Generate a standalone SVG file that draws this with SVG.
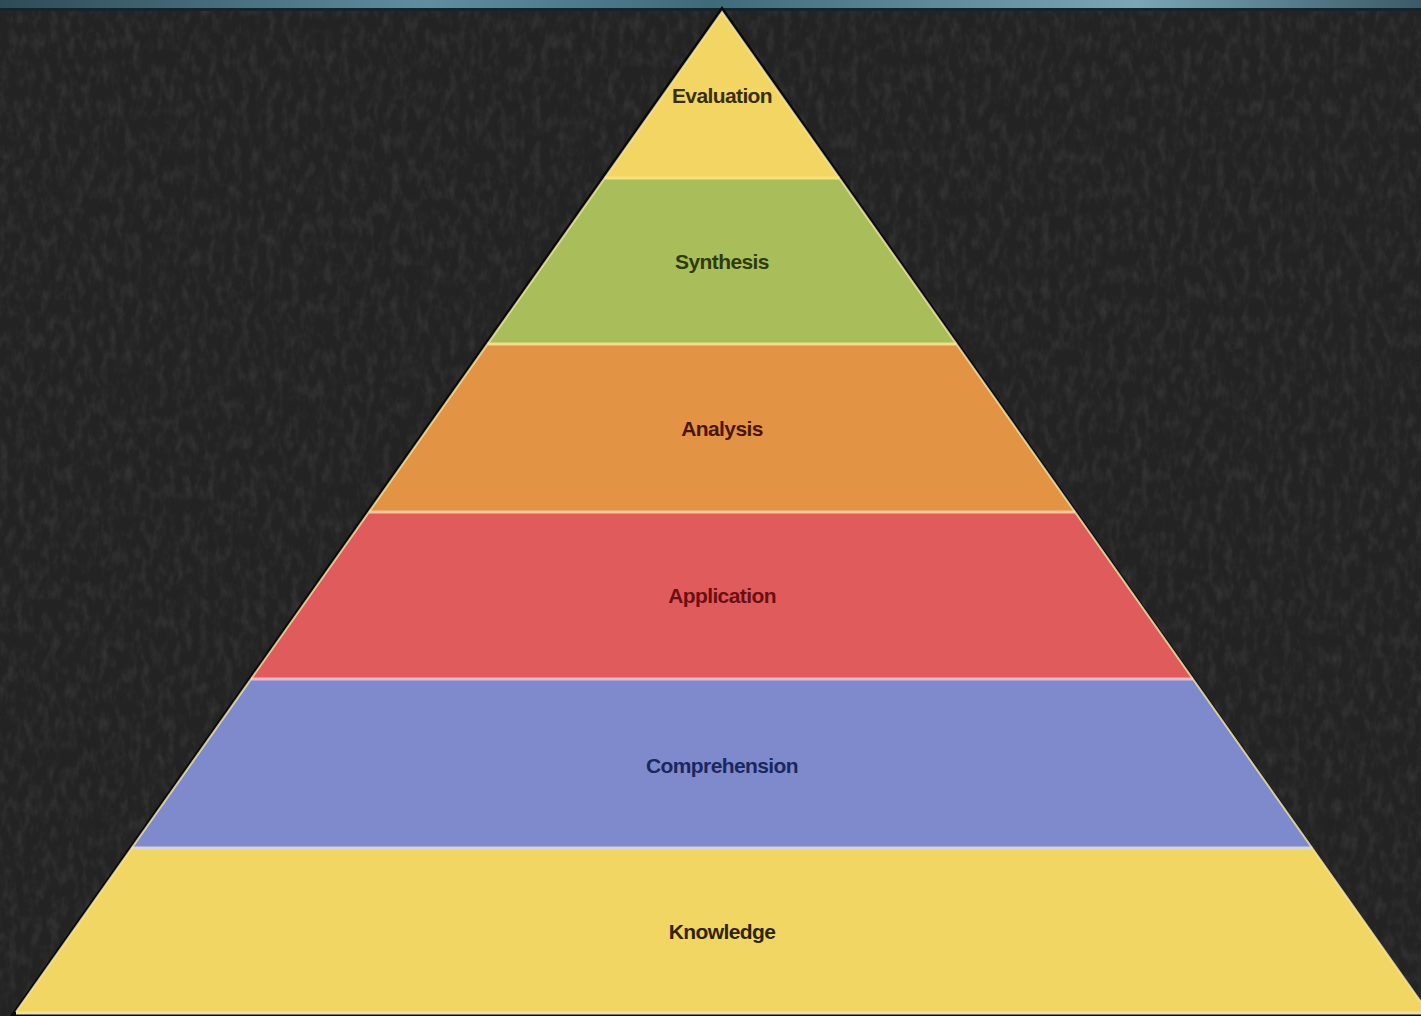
<svg xmlns="http://www.w3.org/2000/svg" width="1421" height="1016" viewBox="0 0 1421 1016">
  <defs>
    <filter id="chalk" x="0" y="0" width="100%" height="100%">
      <feTurbulence type="fractalNoise" baseFrequency="0.12 0.06" numOctaves="4" seed="11" result="n"/>
      <feColorMatrix in="n" type="matrix" values="0 0 0 0 0.6  0 0 0 0 0.6  0 0 0 0 0.6  0 0 0 1.3 -0.55"/>
    </filter>
    <linearGradient id="strip" x1="0" y1="0" x2="1" y2="0">
      <stop offset="0" stop-color="#2e4a55"/>
      <stop offset="0.3" stop-color="#5f8ea0"/>
      <stop offset="0.5" stop-color="#3f6a7a"/>
      <stop offset="0.8" stop-color="#7aa6b5"/>
      <stop offset="1" stop-color="#3b5a66"/>
    </linearGradient>
    <style>
      .lbl { font-family: "Liberation Sans", Arial, sans-serif; font-size: 21px; font-weight: bold; text-anchor: middle; dominant-baseline: central; letter-spacing: -0.6px; }
      .sep { stroke-width: 3; fill: none; }
    </style>
  </defs>

  <rect x="0" y="0" width="1421" height="1016" fill="#232323"/>
  <rect x="0" y="0" width="1421" height="1016" filter="url(#chalk)" opacity="0.16"/>
  <rect x="0" y="0" width="1421" height="8" fill="url(#strip)"/>
  <rect x="0" y="8" width="1421" height="3" fill="#15242a"/>

  <!-- outer shadow -->
  <polygon points="722,6 10,1016 1432,1016" fill="#0a0a0a"/>

  <g id="evaluation">
    <polygon points="722,12 604.8,178 839.2,178" fill="#f2d563"/>
    <text class="lbl" x="722" y="95" fill="#3a2e08">Evaluation</text>
  </g>
  <g id="synthesis">
    <polygon points="604.8,178 839.2,178 956.4,344 487.6,344" fill="#a9be5a"/>
    <text class="lbl" x="722" y="261" fill="#2f3b0c">Synthesis</text>
  </g>
  <g id="analysis">
    <polygon points="487.6,344 956.4,344 1075,512 369,512" fill="#e29343"/>
    <text class="lbl" x="722" y="428" fill="#4a1606">Analysis</text>
  </g>
  <g id="application">
    <polygon points="369,512 1075,512 1192.9,679 251.1,679" fill="#e05b5b"/>
    <text class="lbl" x="722" y="595" fill="#6b0f12">Application</text>
  </g>
  <g id="comprehension">
    <polygon points="251.1,679 1192.9,679 1312.2,848 131.8,848" fill="#7f8acc"/>
    <text class="lbl" x="722" y="765" fill="#1a2760">Comprehension</text>
  </g>
  <g id="knowledge">
    <polygon points="131.8,848 1312.2,848 1428,1012 16,1012" fill="#f2d663"/>
    <text class="lbl" x="722" y="931" fill="#2e2405">Knowledge</text>
  </g>

  <g id="separators">
    <line class="sep" x1="604.8" y1="178" x2="839.2" y2="178" stroke="#f7e27a"/>
    <line class="sep" x1="487.6" y1="344" x2="956.4" y2="344" stroke="#f3dc8c"/>
    <line class="sep" x1="369" y1="512" x2="1075" y2="512" stroke="#f7c39a"/>
    <line class="sep" x1="251.1" y1="679" x2="1192.9" y2="679" stroke="#eab8cc"/>
    <line class="sep" x1="131.8" y1="848" x2="1312.2" y2="848" stroke="#d9d3d8"/>
    <line class="sep" x1="16" y1="1013" x2="1421" y2="1013" stroke="#efe0a8"/>
    <polyline points="16,1012 722,12 1428,1012" stroke="#f6eaa8" stroke-width="2" fill="none" opacity="0.8"/>
  </g>
</svg>
